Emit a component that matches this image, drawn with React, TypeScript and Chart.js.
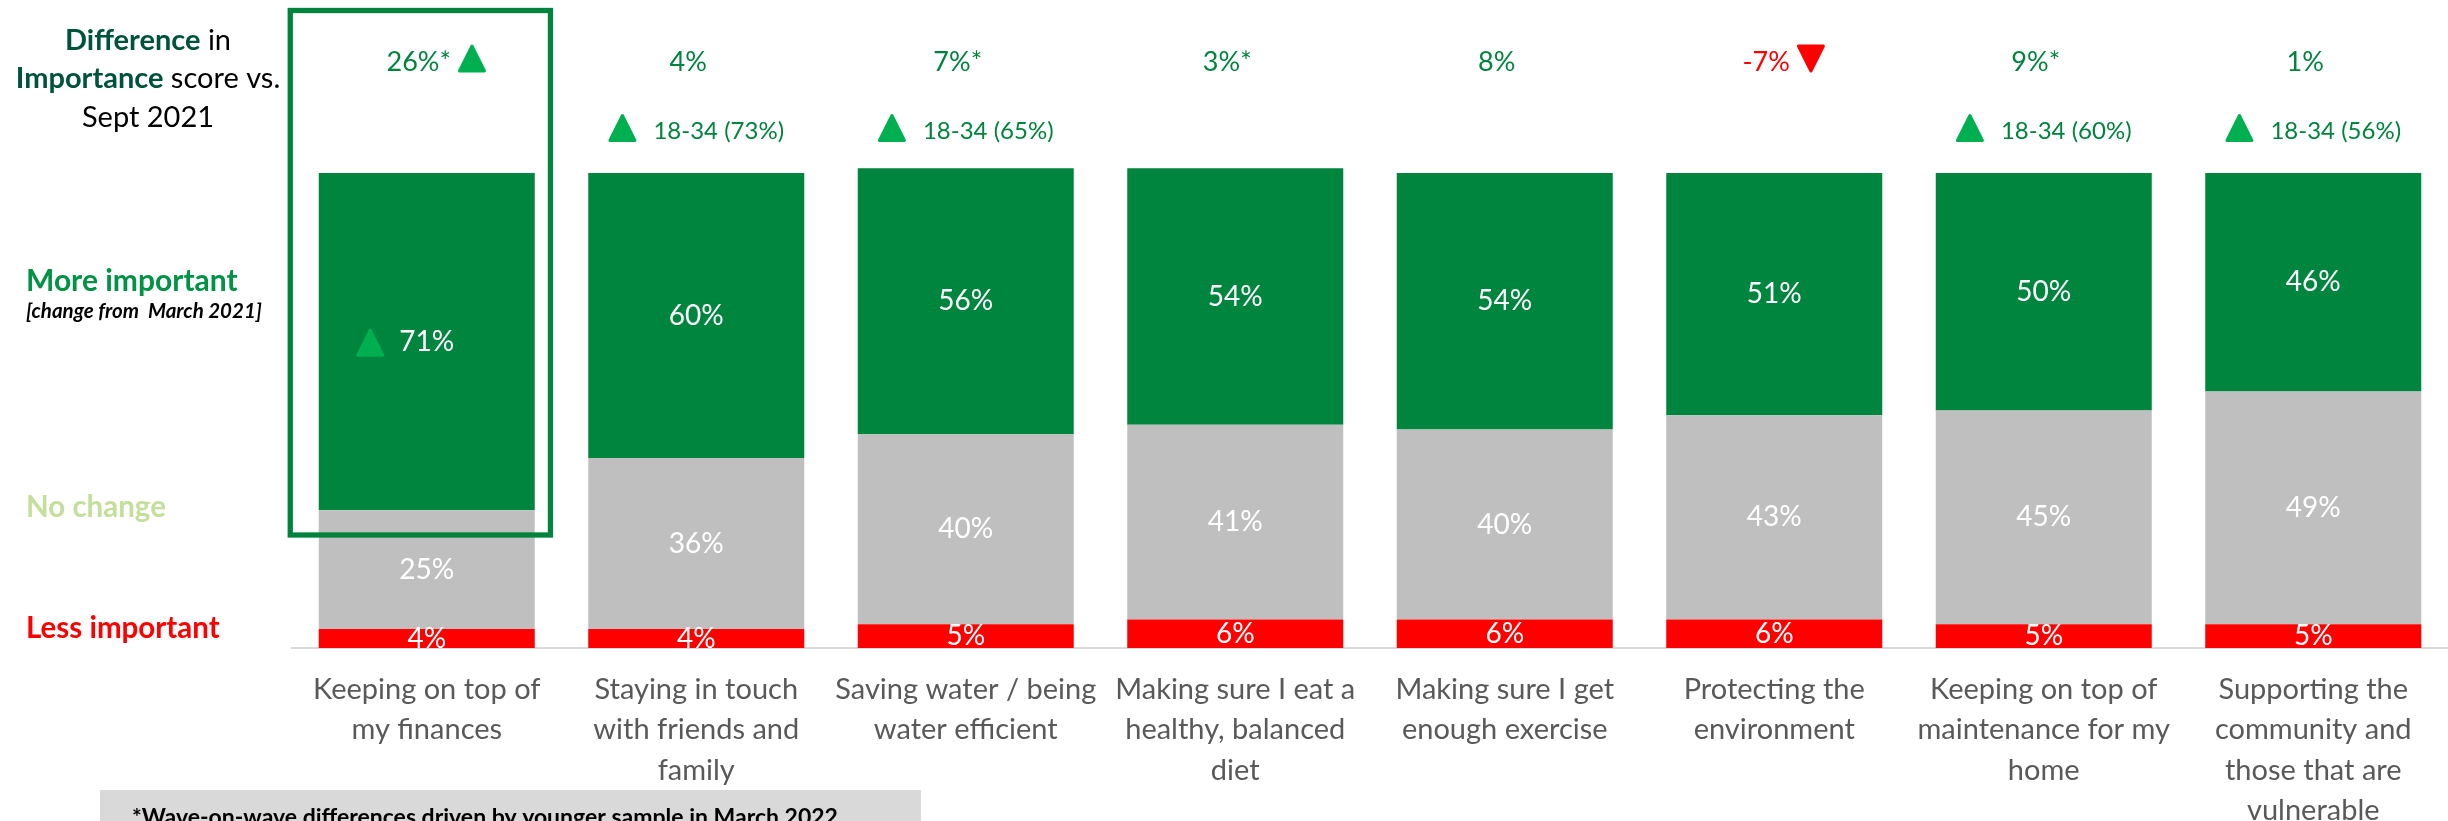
import React, { useEffect, useRef } from "react";
import { Chart, registerables } from "chart.js";

Chart.register(...registerables);

const FONT = "Lato";

// ---- Data ----
const categories: string[][] = [
  ["Keeping on top of", "my finances"],
  ["Staying in touch", "with friends and", "family"],
  ["Saving water / being", "water efficient"],
  ["Making sure I eat a", "healthy, balanced", "diet"],
  ["Making sure I get", "enough exercise"],
  ["Protecting the", "environment"],
  ["Keeping on top of", "maintenance for my", "home"],
  ["Supporting the", "community and", "those that are", "vulnerable"],
];
const lessImportant = [4, 4, 5, 6, 6, 6, 5, 5];
const noChange = [25, 36, 40, 41, 40, 43, 45, 49];
const moreImportant = [71, 60, 56, 54, 54, 51, 50, 46];
const diffVsSept = ["26%*", "4%", "7%*", "3%*", "8%", "-7%", "9%*", "1%"];
const diffSignificance = ["up", "", "", "", "", "down", "", ""];
const youngSubgroup = ["", "18-34 (73%)", "18-34 (65%)", "", "", "", "18-34 (60%)", "18-34 (56%)"];
const moreVsMarchUp = [true, false, false, false, false, false, false, false];
const highlighted = 0;
const footnote = "*Wave-on-wave differences driven by younger sample in March 2022";

const COL = {
  green: "#00853F",
  grey: "#BFBFBF",
  red: "#FF0000",
  triGreen: "#00B050",
  textGreen: "#00843D",
  darkTeal: "#00533B",
  moreGreen: "#009245",
  lightGreen: "#C4DF9B",
  axis: "#D9D9D9",
  tick: "#595959",
};

function triangle(ctx: CanvasRenderingContext2D, cx: number, cy: number, w: number, h: number, up: boolean, color: string) {
  ctx.save();
  ctx.fillStyle = color;
  ctx.strokeStyle = color;
  ctx.lineWidth = 3;
  ctx.lineJoin = "round";
  const r = 1.5;
  ctx.beginPath();
  if (up) {
    ctx.moveTo(cx, cy - h / 2 + r);
    ctx.lineTo(cx + w / 2 - r, cy + h / 2 - r);
    ctx.lineTo(cx - w / 2 + r, cy + h / 2 - r);
  } else {
    ctx.moveTo(cx, cy + h / 2 - r);
    ctx.lineTo(cx + w / 2 - r, cy - h / 2 + r);
    ctx.lineTo(cx - w / 2 + r, cy - h / 2 + r);
  }
  ctx.closePath();
  ctx.fill();
  ctx.stroke();
  ctx.restore();
}

type Run = { text: string; font: string; color: string };
function drawRuns(ctx: CanvasRenderingContext2D, runs: Run[], cx: number, baseline: number) {
  let total = 0;
  const widths = runs.map((r) => {
    ctx.font = r.font;
    const w = ctx.measureText(r.text).width;
    total += w;
    return w;
  });
  let x = cx - total / 2;
  ctx.textAlign = "left";
  ctx.textBaseline = "alphabetic";
  runs.forEach((r, i) => {
    ctx.font = r.font;
    ctx.fillStyle = r.color;
    ctx.fillText(r.text, x, baseline);
    x += widths[i];
  });
}

const overlayPlugin = {
  id: "overlay",
  afterDatasetsDraw(chart: any) {
    const ctx: CanvasRenderingContext2D = chart.ctx;
    const xs = chart.scales.x;
    const area = chart.chartArea;

    // data labels inside segments, clipped to the plot area
    ctx.save();
    ctx.beginPath();
    ctx.rect(area.left, 0, area.right - area.left, area.bottom);
    ctx.clip();
    ctx.font = `28px ${FONT}`;
    ctx.fillStyle = "#FFFFFF";
    ctx.textAlign = "center";
    ctx.textBaseline = "middle";
    chart.data.datasets.forEach((ds: any, di: number) => {
      const meta = chart.getDatasetMeta(di);
      meta.data.forEach((bar: any, i: number) => {
        const p = bar.getProps(["x", "y", "base"], true);
        const cy = (p.y + p.base) / 2;
        const label = `${ds.data[i]}%`;
        ctx.fillText(label, p.x, cy);
        if (di === 2 && moreVsMarchUp[i]) {
          const w = ctx.measureText(label).width;
          triangle(ctx, p.x - w / 2 - 29, cy + 1, 28, 28, true, COL.triGreen);
        }
      });
    });
    ctx.restore();

    // top row: difference vs Sept 2021
    ctx.save();
    diffVsSept.forEach((t, i) => {
      const cx = xs.getPixelForValue(i) - 8;
      ctx.font = `27px ${FONT}`;
      ctx.textAlign = "center";
      ctx.textBaseline = "middle";
      ctx.fillStyle = diffSignificance[i] === "down" ? COL.red : COL.textGreen;
      ctx.fillText(t, cx, 62);
      const w = ctx.measureText(t).width;
      if (diffSignificance[i]) {
        const up = diffSignificance[i] === "up";
        triangle(ctx, cx + w / 2 + 21, 58.5, 28, 28, up, up ? COL.triGreen : COL.red);
      }
    });

    // second row: subgroup highlights
    youngSubgroup.forEach((t, i) => {
      if (!t) return;
      const cx = xs.getPixelForValue(i);
      ctx.font = `24px ${FONT}`;
      const w = ctx.measureText(t).width;
      const total = 28 + 17 + w;
      const left = cx - total / 2;
      triangle(ctx, left + 14, 128, 28, 28, true, COL.triGreen);
      ctx.fillStyle = COL.textGreen;
      ctx.textAlign = "left";
      ctx.textBaseline = "middle";
      ctx.fillText(t, left + 45, 131.5);
    });

    // highlight box around the first column
    const hx = xs.getPixelForValue(highlighted);
    ctx.strokeStyle = COL.textGreen;
    ctx.lineWidth = 5.3;
    ctx.strokeRect(hx - 136.5, 10.5, 260.2, 524.5);

    // left side legend / row headings
    drawRuns(ctx, [
      { text: "Difference", font: `bold 29px ${FONT}`, color: COL.darkTeal },
      { text: " in", font: `29px ${FONT}`, color: "#000" },
    ], 148, 50);
    drawRuns(ctx, [
      { text: "Importance", font: `bold 29px ${FONT}`, color: COL.darkTeal },
      { text: " score vs.", font: `29px ${FONT}`, color: "#000" },
    ], 148, 88);
    drawRuns(ctx, [{ text: "Sept 2021", font: `29px ${FONT}`, color: "#000" }], 148, 127);

    ctx.textAlign = "left";
    ctx.textBaseline = "alphabetic";
    ctx.font = `bold 30px ${FONT}`;
    ctx.fillStyle = COL.moreGreen;
    ctx.fillText("More important", 26, 291);
    ctx.font = `italic bold 20.5px ${FONT}`;
    ctx.fillStyle = "#000";
    ctx.fillText("[change from  March 2021]", 26, 318);
    ctx.font = `bold 29.5px ${FONT}`;
    ctx.fillStyle = COL.lightGreen;
    ctx.fillText("No change", 26, 517);
    ctx.fillStyle = COL.red;
    ctx.fillText("Less important", 26, 638);

    // footnote box
    ctx.fillStyle = "#D9D9D9";
    ctx.fillRect(100, 790, 821, 40);
    ctx.font = `bold 23px ${FONT}`;
    ctx.fillStyle = "#000";
    ctx.fillText(footnote, 132, 825);
    ctx.restore();
  },
};

export default function App() {
  const ref = useRef<HTMLCanvasElement | null>(null);
  useEffect(() => {
    let chart: Chart | null = null;
    let cancelled = false;
    const fontsReady = (document as any).fonts
      ? Promise.all([
          (document as any).fonts.load(`28px ${FONT}`),
          (document as any).fonts.load(`bold 28px ${FONT}`),
          (document as any).fonts.load(`italic bold 20px ${FONT}`),
        ]).catch(() => null)
      : Promise.resolve(null);
    fontsReady.then(() => {
      if (cancelled || !ref.current) return;
      chart = new Chart(ref.current, {
        type: "bar",
        data: {
          labels: categories as any,
          datasets: [
            { label: "Less important", data: lessImportant, backgroundColor: COL.red },
            { label: "No change", data: noChange, backgroundColor: COL.grey },
            { label: "More important", data: moreImportant, backgroundColor: COL.green },
          ],
        },
        options: {
          responsive: false,
          animation: false,
          layout: { padding: { left: 292, right: 0, top: 163.5, bottom: 0 } },
          datasets: { bar: { barPercentage: 1, categoryPercentage: 0.8015 } } as any,
          plugins: { legend: { display: false }, tooltip: { enabled: false } },
          scales: {
            x: {
              stacked: true,
              grid: { display: false, drawTicks: false },
              border: { display: true, color: COL.axis, width: 2 },
              ticks: {
                autoSkip: false,
                maxRotation: 0,
                minRotation: 0,
                padding: 21,
                color: COL.tick,
                font: { family: FONT, size: 29, lineHeight: 1.4 },
              },
              afterFit: (s: any) => {
                s.height = 173;
              },
            },
            y: { stacked: true, display: false, min: 0, max: 102 },
          },
        },
        plugins: [overlayPlugin],
      });
    });
    return () => {
      cancelled = true;
      if (chart) chart.destroy();
    };
  }, []);
  return (
    <div style={{ position: "absolute", left: 0, top: 0, width: 2448, height: 821, overflow: "hidden", background: "#fff" }}>
      <canvas ref={ref} width={2448} height={821} style={{ display: "block", width: 2448, height: 821 }} />
    </div>
  );
}
